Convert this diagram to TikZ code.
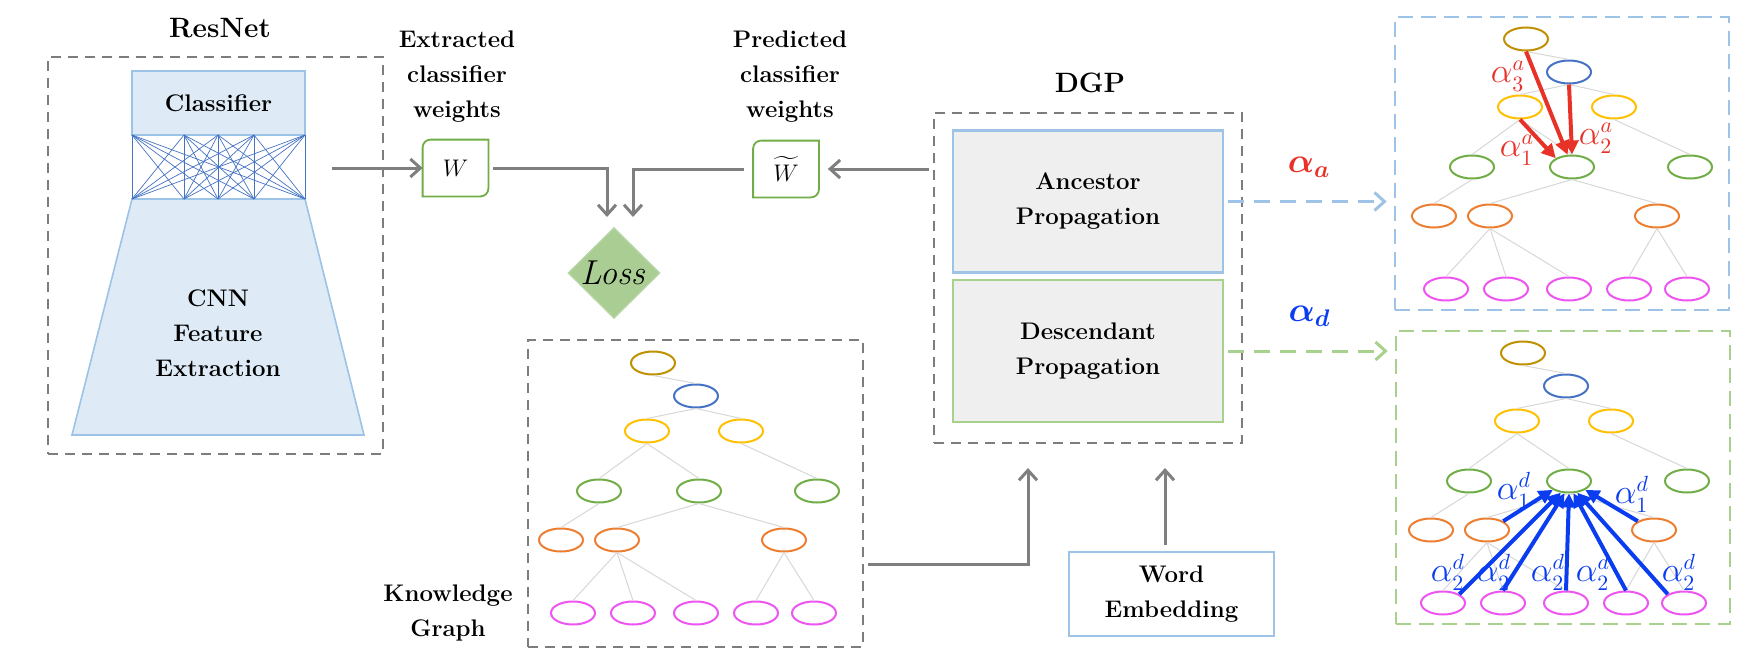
\documentclass[tikz,border=0pt]{standalone}
\usepackage{amsmath}
\usepackage{tikz}
\usetikzlibrary{shapes.geometric,arrows.meta}
\definecolor{arrgray}{RGB}{127,127,127}
\definecolor{boxgray}{RGB}{125,125,125}
\definecolor{lblue}{RGB}{157,195,230}
\definecolor{fblue}{RGB}{222,235,247}
\definecolor{mblue}{RGB}{68,114,196}
\definecolor{lgreen}{RGB}{169,209,142}
\definecolor{mgreen}{RGB}{112,173,71}
\definecolor{lossgreen}{RGB}{169,205,146}
\definecolor{propgray}{RGB}{239,239,239}
\definecolor{kgold}{RGB}{191,144,0}
\definecolor{kyellow}{RGB}{255,192,0}
\definecolor{korange}{RGB}{237,125,49}
\definecolor{kpink}{RGB}{238,84,240}
\definecolor{kedge}{RGB}{215,215,215}
\definecolor{alphared}{RGB}{232,50,40}
\definecolor{alphablue}{RGB}{10,60,240}
\tikzset{
  font={\fontsize{12pt}{17.5pt}\selectfont\bfseries},
  lbltext/.style={align=center, inner sep=0pt},
  titletext/.style={inner sep=0pt, font={\fontsize{14pt}{16pt}\selectfont\bfseries}},
  dashbox/.style={draw=boxgray, line width=0.9pt, dash pattern=on 5pt off 3.5pt},
  panelbox/.style={draw=#1, line width=1.3pt, dash pattern=on 7.5pt off 4pt},
  propbox/.style={draw=#1, fill=propgray, line width=1.3pt, align=center,
    minimum width=135pt, minimum height=71pt},
  wnode/.style={minimum width=32.5pt, minimum height=28pt, inner sep=0pt,
    font={\fontsize{13pt}{15pt}\selectfont}},
  wline/.style={draw=mgreen, line width=0.9pt},
  meshline/.style={draw=mblue, line width=0.35pt},
  arr/.style={draw=arrgray, line width=1.5pt, -{Straight Barb[length=5pt,width=9pt]}},
  dasharr/.style={draw=#1, line width=1.5pt, dash pattern=on 8pt off 5pt,
    -{Straight Barb[length=5pt,width=9pt]}},
  kgnode/.style={ellipse, draw=#1, line width=1pt, minimum width=22pt,
    minimum height=11.5pt, inner sep=0pt},
  kgedge/.style={draw=kedge, line width=0.5pt},
  alphaarr/.style={draw=#1, line width=2pt, -{Triangle[length=7pt,width=7pt]}},
  alphalbl/.style={text=#1, inner sep=0pt, font={\fontsize{16pt}{18pt}\selectfont}}
}
% one copy of the knowledge graph, root at (#2,#3)
\newcommand{\kgtree}[3]{%
  \begin{scope}[shift={(#2,#3)}]
  \node[kgnode=kgold] (#1r) at (0,0) {};
  \node[kgnode=mblue] (#1b) at (43,33) {};
  \node[kgnode=kyellow] (#1y1) at (-6,68) {};
  \node[kgnode=kyellow] (#1y2) at (88,68) {};
  \node[kgnode=mgreen] (#1g1) at (-54,128) {};
  \node[kgnode=mgreen] (#1g2) at (46,128) {};
  \node[kgnode=mgreen] (#1g3) at (164,128) {};
  \node[kgnode=korange] (#1o1) at (-92,177) {};
  \node[kgnode=korange] (#1o2) at (-36,177) {};
  \node[kgnode=korange] (#1o3) at (131,177) {};
  \foreach \i/\x in {1/-80,2/-20,3/43,4/103,5/161}
    \node[kgnode=kpink] (#1m\i) at (\x,250) {};
  \end{scope}
  \foreach \p/\c in {r/b,b/y1,b/y2,y1/g1,y1/g2,y2/g3,g1/o1,g2/o2,g2/o3,o2/m1,o2/m2,o2/m3,o3/m4,o3/m5}
    \draw[kgedge] (#1\p.south) -- (#1\c.north);
}
% frame with two rounded corners
\newcommand{\wframe}[1]{%
  \draw[wline] (#1.north east) -- ([xshift=4pt]#1.north west)
    arc[start angle=90, end angle=180, radius=4pt] -- (#1.south west)
    -- ([xshift=-4pt]#1.south east)
    arc[start angle=270, end angle=360, radius=4pt] -- cycle;
}
\begin{document}
\begin{tikzpicture}[x=0.5pt,y=-0.5pt]
\useasboundingbox (0,0) rectangle (1754,658);

% ResNet
\node[titletext] (resnetlbl) at (220,28) {ResNet};
\node[dashbox, minimum width=167.5pt, minimum height=198.5pt] (resnet) at (215.5,255.5) {};
\draw[fill=fblue, draw=lblue, line width=0.8pt] (132,199) -- (305,199) -- (364,435) -- (72,435) -- cycle;
\node[lbltext] (cnn) at (218,333) {CNN\\Feature\\Extraction};
\node[fill=fblue, draw=lblue, line width=0.8pt, minimum width=86.5pt, minimum height=32pt] (classifier) at (218.5,103) {Classifier};
\foreach \a in {132,184,218,254,305}
  \foreach \b in {132,184,218,254,305}
    \draw[meshline] (\a,135) -- (\b,199);
\coordinate (resout) at (332,168);

% weights
\node[lbltext] (extlbl) at (457,77) {Extracted\\classifier\\weights};
\node[wnode] (W) at (455.5,168) {$W$};
\wframe{W}
\node[lbltext] (predlbl) at (790,77) {Predicted\\classifier\\weights};
\node[wnode] (Wt) at (786,169) {$\widetilde{W}$};
\wframe{Wt}

% loss
\node[diamond, fill=lossgreen, draw=lossgreen!80!white, line width=0.6pt, inner sep=0pt,
  minimum width=46pt, minimum height=43.5pt, font={\fontsize{16pt}{18pt}\selectfont}] (loss) at (614,273) {$\mathit{Loss}$};
\coordinate (lossinL) at (607,217);
\coordinate (lossinR) at (633,217);

% DGP
\node[titletext] (dgplbl) at (1090,83) {DGP};
\node[dashbox, minimum width=154pt, minimum height=165pt] (dgp) at (1088,278) {};
\node[propbox=lblue] (anc) at (1088,201.5) {Ancestor\\Propagation};
\node[propbox=lgreen] (desc) at (1088,351) {Descendant\\Propagation};
\coordinate (dgpout) at (929,169);
\coordinate (dgpinL) at (1028,468);
\coordinate (dgpinR) at (1165,468);

% knowledge graph and word embedding
\node[dashbox, minimum width=167.5pt, minimum height=153.5pt] (kg) at (695.5,493.5) {};
\node[lbltext] (kglbl) at (448,613) {Knowledge\\Graph};
\kgtree{k-}{653}{363}
\coordinate (kgout) at (868,564);
\node[draw=lblue, line width=0.6pt, align=center, minimum width=102.5pt, minimum height=42pt] (word) at (1171.5,594) {Word\\Embedding};

% connectors
\draw[arr] (resout) -- (W.west);
\draw[arr, shorten <=2.5pt] (W.east) -| (lossinL);
\draw[arr, shorten <=4.5pt] (Wt.west) -| (lossinR);
\draw[arr, shorten >=4.5pt] (dgpout) -- (Wt.east);
\draw[arr] (kgout) -| (dgpinL);
\draw[arr, shorten <=3pt] (word.north -| dgpinR) -- (dgpinR);

% ancestor panel
\node[panelbox=lblue, minimum width=167pt, minimum height=146.5pt] (panelA) at (1562,163.5) {};
\kgtree{a-}{1526}{39}
\draw[alphaarr=alphared] (a-r.south) -- (a-g2.110);
\draw[alphaarr=alphared] (a-b.south) -- (a-g2.north);
\draw[alphaarr=alphared] (a-y1.south) -- (a-g2.north west);
\node[alphalbl=alphared] (a3) at (1508,76) {$\alpha^a_3$};
\node[alphalbl=alphared] (a2) at (1596,138) {$\alpha^a_2$};
\node[alphalbl=alphared] (a1) at (1517,150) {$\alpha^a_1$};

% descendant panel
\node[panelbox=lgreen, minimum width=167pt, minimum height=146.5pt] (panelD) at (1563,477.5) {};
\kgtree{d-}{1523}{353}
\draw[alphaarr=alphablue] (d-o2.north east) -- (d-g2.south west);
\draw[alphaarr=alphablue] (d-o3.north west) -- (d-g2.south east);
\draw[alphaarr=alphablue] (d-m1.north east) -- (d-g2.235);
\draw[alphaarr=alphablue] (d-m2.north) -- (d-g2.250);
\draw[alphaarr=alphablue] (d-m3.north) -- (d-g2.south);
\draw[alphaarr=alphablue] (d-m4.north) -- (d-g2.290);
\draw[alphaarr=alphablue] (d-m5.north west) -- (d-g2.305);
\node[alphalbl=alphablue] (d1l) at (1514,490) {$\alpha^d_1$};
\node[alphalbl=alphablue] (d1r) at (1632,494) {$\alpha^d_1$};
\foreach \x [count=\i] in {1448,1494,1548,1593,1679}
  \node[alphalbl=alphablue] (d2\i) at (\x,572) {$\alpha^d_2$};

% attention arrows
\draw[dasharr=lblue, shorten <=2pt, shorten >=3.5pt] (anc.east) -- (anc.east -| panelA.west)
  node[midway, above=8pt, text=alphared, font={\fontsize{17pt}{19pt}\selectfont}] (alab) {$\boldsymbol{\alpha_a}$};
\draw[dasharr=lgreen, shorten <=2pt, shorten >=3.5pt] (desc.east) -- (desc.east -| panelD.west)
  node[midway, above=8pt, text=alphablue, font={\fontsize{17pt}{19pt}\selectfont}] (dlab) {$\boldsymbol{\alpha_d}$};
\end{tikzpicture}
\end{document}
